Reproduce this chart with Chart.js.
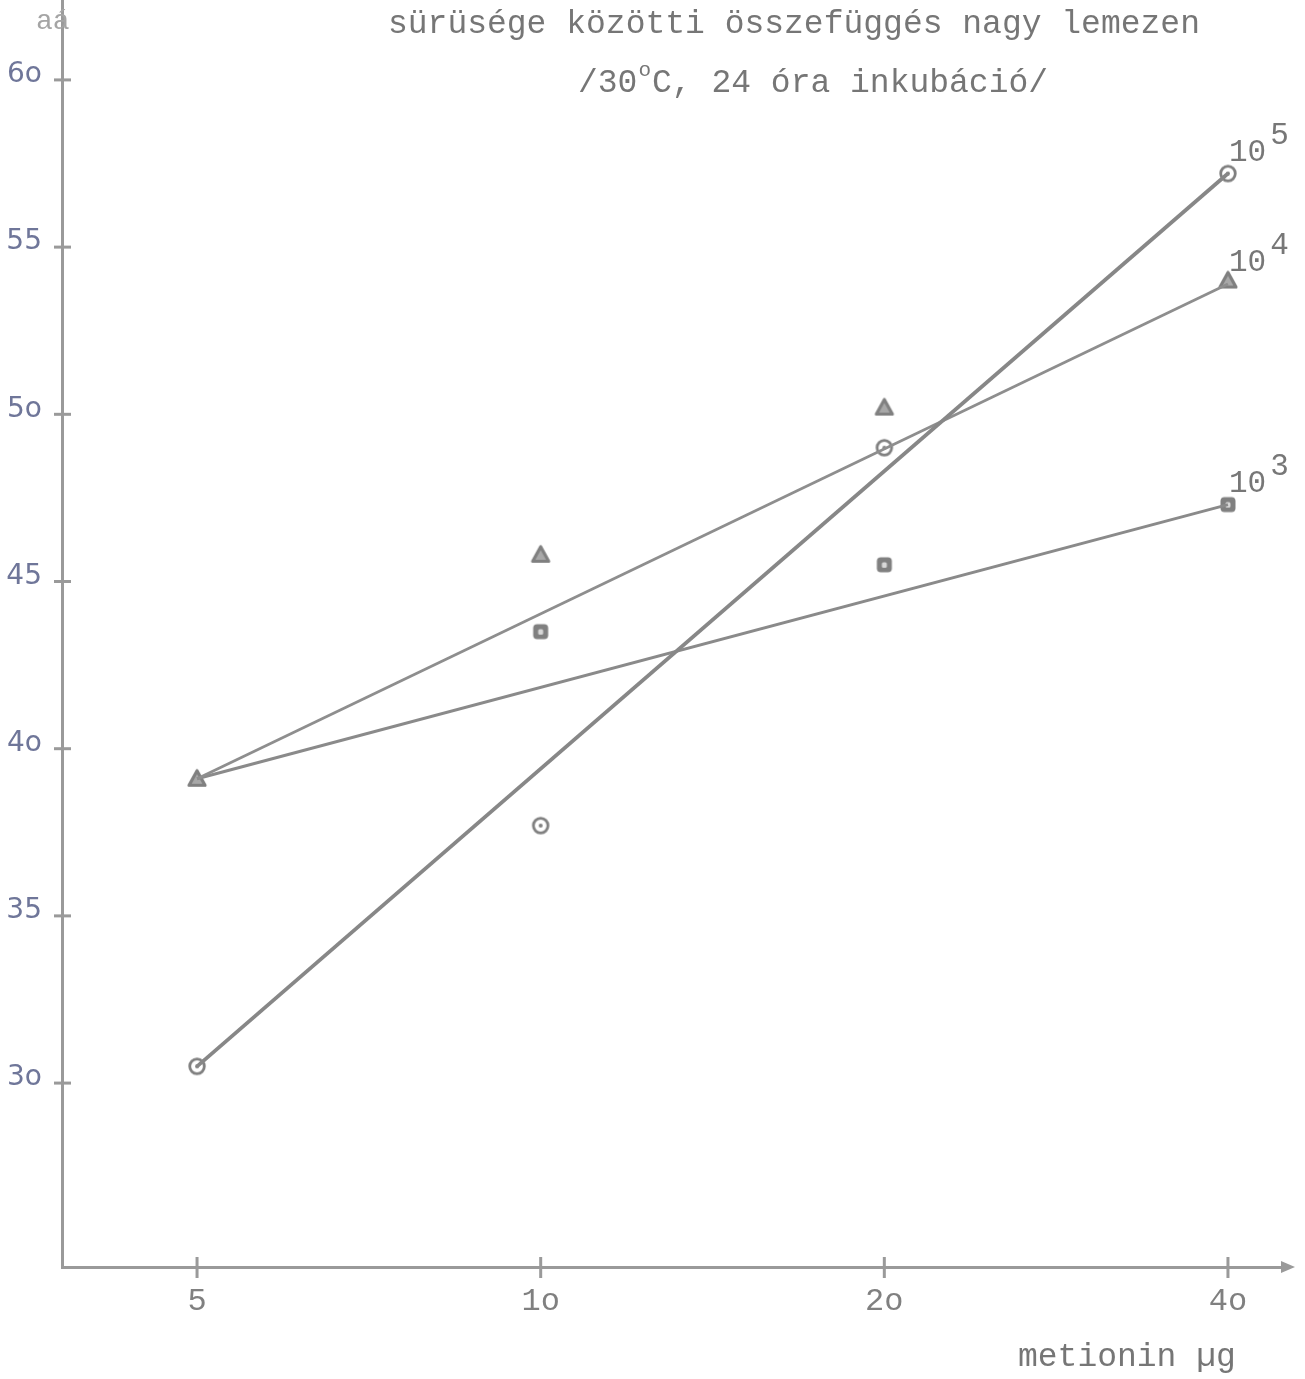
<!DOCTYPE html>
<html><head><meta charset="utf-8">
<script src="https://cdn.jsdelivr.net/npm/chart.js@4/dist/chart.umd.min.js"></script>
<style>html,body{margin:0;padding:0;background:#fff;overflow:hidden;}</style>
</head><body>
<canvas id="c" width="1305" height="1379" style="width:1305px;height:1379px;display:block"></canvas>
<script>
// ---- data ----
const xLabels = ['5', '1o', '2o', '4o'];
const xPositions = [0, 1, 2, 3];
const yTickValues = [30, 35, 40, 45, 50, 55, 60];
const yTickLabels = ['3o', '35', '4o', '45', '5o', '55', '6o'];
const circles1e5 = [30.5, 37.7, 49.0, 57.2];
const triangles1e4 = [39.1, 45.8, 50.2, 54.0];
const squares1e3 = [null, 43.5, 45.5, 47.3];
const fitX = [0, 3];
const fit1e5 = [30.5, 57.2];
const fit1e4 = [39.1, 53.9];
const fit1e3 = [39.1, 47.3];
const seriesBase = ['10', '10', '10'];
const seriesExp = ['5', '4', '3'];
const titleLine1 = 'sürüsége közötti összefüggés nagy lemezen';
const titleLine2a = '/30';
const titleSup = 'o';
const titleLine2b = 'C, 24 óra inkubáció/';
const xTitle = 'metionin µg';
const yTitleFragment = 'aá';

const AXIS = '#9a9a9a';
const MONO = '"Liberation Mono", "DejaVu Sans Mono", monospace';

function mk(draw) {
  const c = document.createElement('canvas');
  c.width = 24; c.height = 24;
  draw(c.getContext('2d'));
  return c;
}
const circImg = mk(g => {
  g.strokeStyle = '#808080'; g.lineWidth = 2.8;
  g.beginPath(); g.arc(12, 12, 7.3, 0, Math.PI * 2); g.stroke();
  g.fillStyle = '#808080';
  g.beginPath(); g.arc(12, 12, 2, 0, Math.PI * 2); g.fill();
});
const triImg = mk(g => {
  g.strokeStyle = '#808080'; g.lineWidth = 3.2; g.lineJoin = 'round';
  g.beginPath(); g.moveTo(12, 4); g.lineTo(20, 18.5); g.lineTo(4, 18.5); g.closePath();
  g.fillStyle = '#a8a8a8'; g.fill(); g.stroke();
});
const sqImg = mk(g => {
  g.fillStyle = '#808080';
  g.beginPath(); g.roundRect(4.5, 4.5, 15, 15, 4); g.fill();
  g.fillStyle = '#d8d8d8';
  g.beginPath(); g.roundRect(9.5, 9.5, 5, 5.5, 1.5); g.fill();
});

function pts(xs, ys) { return xs.map((x, i) => ({ x: x, y: ys[i] })); }

const fits = [fit1e5, fit1e4, fit1e3];

const decor = {
  id: 'decor',
  afterDraw(chart) {
    const g = chart.ctx;
    const xs = chart.scales.x, ys = chart.scales.y;
    const ca = chart.chartArea;
    g.save();
    // tick crosses
    g.strokeStyle = AXIS; g.lineWidth = 3;
    yTickValues.forEach(v => {
      const py = ys.getPixelForValue(v);
      g.beginPath(); g.moveTo(ca.left - 8, py); g.lineTo(ca.left + 9, py); g.stroke();
    });
    xPositions.forEach(v => {
      const px = xs.getPixelForValue(v);
      g.beginPath(); g.moveTo(px, ca.bottom - 10); g.lineTo(px, ca.bottom + 11); g.stroke();
    });
    // arrow
    g.fillStyle = AXIS;
    g.beginPath(); g.moveTo(ca.right + 10, ca.bottom); g.lineTo(ca.right - 4, ca.bottom - 6); g.lineTo(ca.right - 4, ca.bottom + 6); g.closePath(); g.fill();
    // titles
    g.fillStyle = '#767676';
    g.font = '33px ' + MONO;
    g.textBaseline = 'alphabetic'; g.textAlign = 'left';
    g.fillText(titleLine1, 388, 33);
    let x = 578;
    g.fillText(titleLine2a, x, 92); x += g.measureText(titleLine2a).width + 1;
    g.font = '21px ' + MONO;
    g.fillText(titleSup, x, 76); x += g.measureText(titleSup).width + 1;
    g.font = '33px ' + MONO;
    g.fillText(titleLine2b, x, 92);
    // x title
    g.fillText(xTitle, 1018, 1366);
    // y title fragment
    g.font = '28px ' + MONO;
    g.fillStyle = '#a5a5a5';
    g.fillText(yTitleFragment, 36, 29);
    // series labels
    g.fillStyle = '#777';
    fits.forEach((f, i) => {
      const px = xs.getPixelForValue(fitX[1]);
      const py = ys.getPixelForValue(f[1]);
      g.font = '31px ' + MONO;
      g.fillText(seriesBase[i], px + 1, py - 13);
      const w = g.measureText(seriesBase[i]).width;
      g.fillText(seriesExp[i], px + w + 5, py - 30);
    });
    g.restore();
  }
};

new Chart(document.getElementById('c'), {
  type: 'scatter',
  data: {
    datasets: [
      { label: '10^5 fit', data: pts(fitX, fit1e5), showLine: true, borderColor: '#878787', borderWidth: 3.8, pointRadius: 0 },
      { label: '10^4 fit', data: pts(fitX, fit1e4), showLine: true, borderColor: '#8e8e8e', borderWidth: 2.8, pointRadius: 0 },
      { label: '10^3 fit', data: pts(fitX, fit1e3), showLine: true, borderColor: '#8a8a8a', borderWidth: 3, pointRadius: 0 },
      { label: '10^5', data: pts(xPositions, circles1e5), pointStyle: circImg, pointRadius: 9 },
      { label: '10^4', data: pts(xPositions, triangles1e4), pointStyle: triImg, pointRadius: 9 },
      { label: '10^3', data: pts(xPositions, squares1e3), pointStyle: sqImg, pointRadius: 9 }
    ]
  },
  options: {
    responsive: false,
    animation: false,
    devicePixelRatio: 1,
    layout: { autoPadding: false, padding: { top: 0, right: 20, left: 0, bottom: 0 } },
    plugins: { legend: { display: false }, tooltip: { enabled: false }, title: { display: false } },
    scales: {
      x: {
        type: 'linear', min: -0.393, max: 3.166,
        afterFit: s => { s.height = 112; s.paddingLeft = 0; s.paddingRight = 0; s.paddingTop = 0; s.paddingBottom = 0; },
        afterBuildTicks: s => { s.ticks = xPositions.map(v => ({ value: v })); },
        grid: { display: false, drawTicks: false },
        border: { display: true, color: AXIS, width: 3 },
        ticks: {
          padding: 15, color: '#808080',
          font: { family: MONO, size: 32 },
          callback: (v) => xLabels[xPositions.indexOf(v)] ?? ''
        }
      },
      y: {
        type: 'linear', min: 24.5, max: 62.39,
        afterFit: s => { s.width = 62; s.paddingTop = 0; s.paddingBottom = 0; s.paddingLeft = 0; s.paddingRight = 0; },
        afterBuildTicks: s => { s.ticks = yTickValues.map(v => ({ value: v })); },
        grid: { display: false, drawTicks: false },
        border: { display: true, color: AXIS, width: 3 },
        ticks: {
          padding: 20, color: '#6f7699', labelOffset: -5,
          font: { family: '"DejaVu Sans", sans-serif', size: 28 },
          callback: (v) => yTickLabels[yTickValues.indexOf(v)] ?? ''
        }
      }
    }
  },
  plugins: [decor]
});
</script>
</body></html>
